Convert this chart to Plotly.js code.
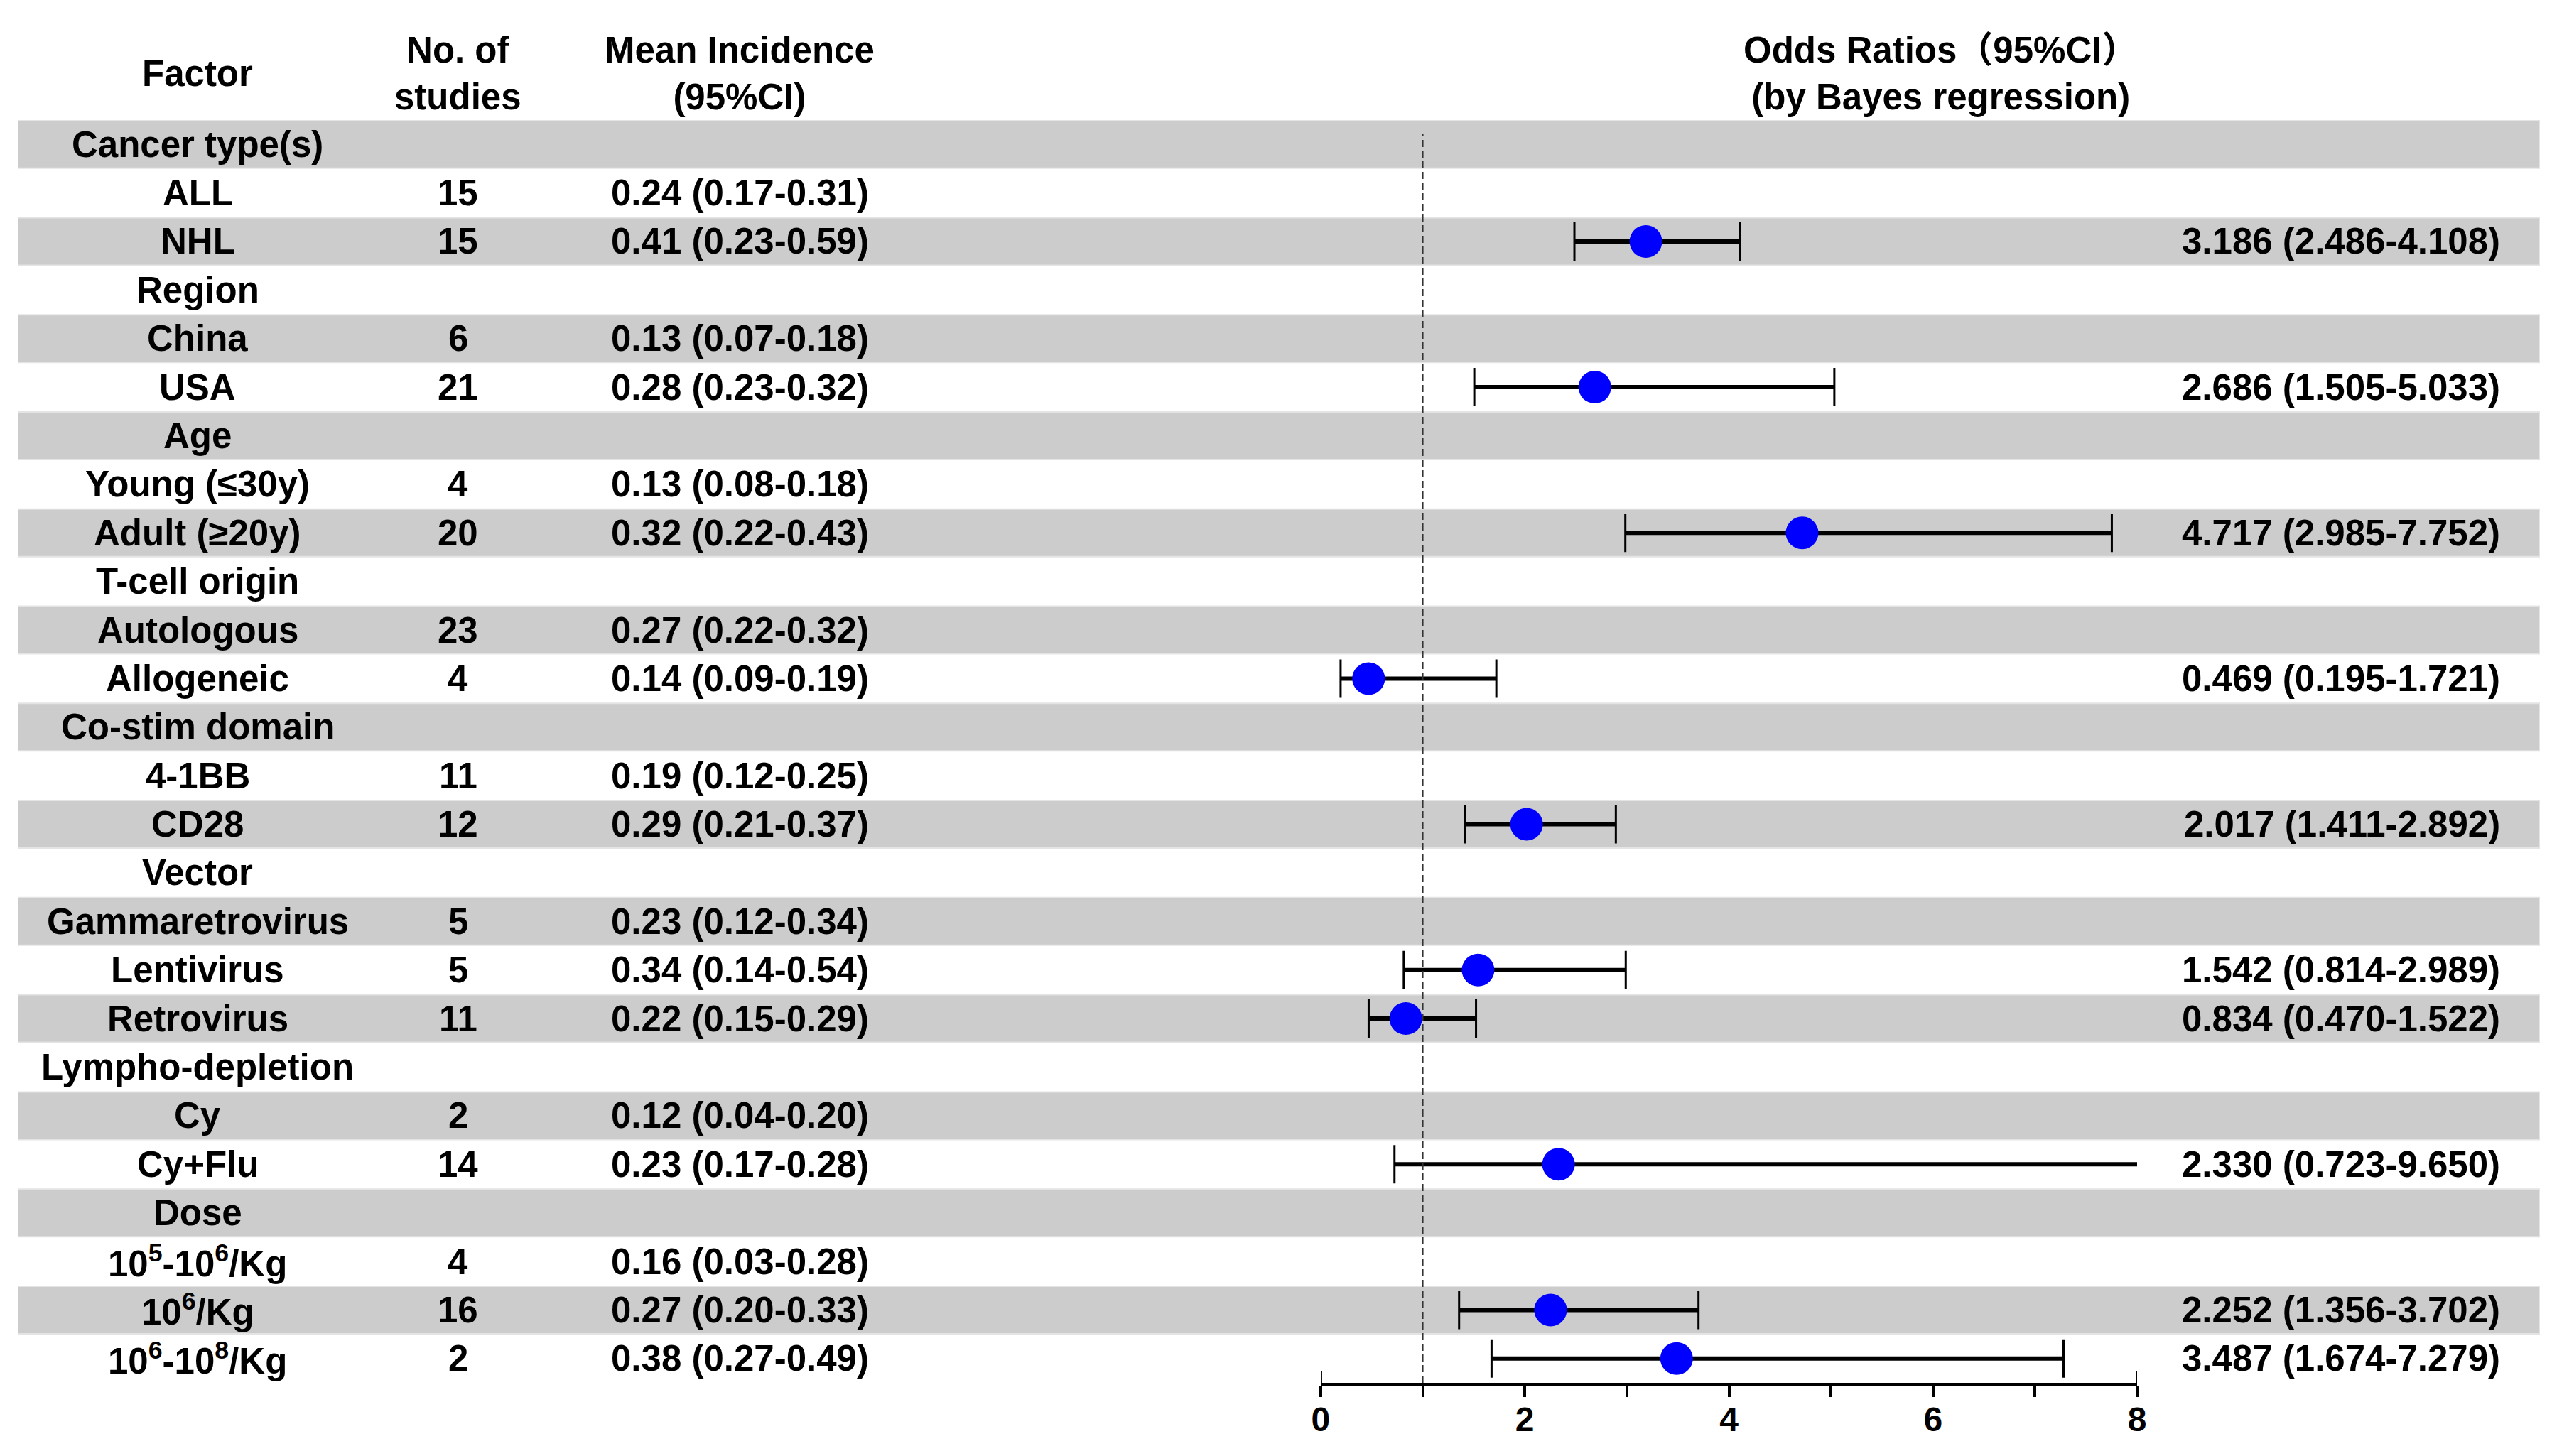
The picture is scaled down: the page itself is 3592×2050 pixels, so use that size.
<!DOCTYPE html>
<html>
<head>
<meta charset="utf-8">
<script src="https://cdn.plot.ly/plotly-3.0.1.min.js"></script>
<style>html,body{margin:0;padding:0;background:#fff;}#chart{width:3592px;height:2050px;}</style>
</head>
<body>
<div id="chart"></div>
<script>
// ---- data ----
const factors = ['Cancer type(s)','ALL','NHL','Region','China','USA','Age','Young (≤30y)','Adult (≥20y)',
  'T-cell origin','Autologous','Allogeneic','Co-stim domain','4-1BB','CD28','Vector','Gammaretrovirus',
  'Lentivirus','Retrovirus','Lympho-depletion','Cy','Cy+Flu','Dose',
  '10<sup>5</sup>-10<sup>6</sup>/Kg','10<sup>6</sup>/Kg','10<sup>6</sup>-10<sup>8</sup>/Kg'];
const nStudies = [null,15,15,null,6,21,null,4,20,null,23,4,null,11,12,null,5,5,11,null,2,14,null,4,16,2];
const meanInc  = [null,0.24,0.41,null,0.13,0.28,null,0.13,0.32,null,0.27,0.14,null,0.19,0.29,null,0.23,0.34,0.22,null,0.12,0.23,null,0.16,0.27,0.38];
const meanLo   = [null,0.17,0.23,null,0.07,0.23,null,0.08,0.22,null,0.22,0.09,null,0.12,0.21,null,0.12,0.14,0.15,null,0.04,0.17,null,0.03,0.20,0.27];
const meanHi   = [null,0.31,0.59,null,0.18,0.32,null,0.18,0.43,null,0.32,0.19,null,0.25,0.37,null,0.34,0.54,0.29,null,0.20,0.28,null,0.28,0.33,0.49];
const orEst = [null,null,3.186,null,null,2.686,null,null,4.717,null,null,0.469,null,null,2.017,null,null,1.542,0.834,null,null,2.330,null,null,2.252,3.487];
const orLo  = [null,null,2.486,null,null,1.505,null,null,2.985,null,null,0.195,null,null,1.411,null,null,0.814,0.470,null,null,0.723,null,null,1.356,1.674];
const orHi  = [null,null,4.108,null,null,5.033,null,null,7.752,null,null,1.721,null,null,2.892,null,null,2.989,1.522,null,null,9.650,null,null,3.702,7.279];
const orTickVals = [0,2,4,6,8];
const orTickText = ['0','2','4','6','8'];

// ---- derived ----
const rows = factors.map((_, i) => i);
const shaded = rows.filter(i => i % 2 === 0);
const errPlus = orEst.map((v, i) => v == null ? null : orHi[i] - v);
const errMinus = orEst.map((v, i) => v == null ? null : v - orLo[i]);

const FONT = 'Liberation Sans, Arial, Noto Sans CJK SC, sans-serif';
const FS = 51;
const txtFont = {family: FONT, size: FS, color: '#000', weight: 700};

// column positions (paper fractions)
const colFactor = 0.0713, colN = 0.1746, colMean = 0.2862, colOR = 0.9848;

const traces = [
  { type: 'bar', orientation: 'h', x: shaded.map(() => 1), y: shaded, base: 0, width: 0.98,
    xaxis: 'x', yaxis: 'y', marker: {color: '#cccccc', line: {color: '#e4e4e4', width: 2}},
    hoverinfo: 'skip', showlegend: false },
  { type: 'scatter', mode: 'markers', x: orEst, y: rows, xaxis: 'x2', yaxis: 'y',
    marker: {size: 1, color: 'rgba(0,0,0,0)'},
    error_x: {type: 'data', symmetric: false, array: errPlus, arrayminus: errMinus,
              thickness: 3, width: 27, color: '#000'}, showlegend: false, hoverinfo: 'skip' },
  { type: 'scatter', mode: 'markers', x: orEst, y: rows, xaxis: 'x2', yaxis: 'y',
    marker: {size: 1, color: 'rgba(0,0,0,0)'},
    error_x: {type: 'data', symmetric: false, array: errPlus, arrayminus: errMinus,
              thickness: 6, width: 0, color: '#000'}, showlegend: false, hoverinfo: 'skip' },
  { type: 'scatter', mode: 'markers', x: orEst, y: rows, xaxis: 'x2', yaxis: 'y',
    marker: {size: 46, color: '#0000ff'}, showlegend: false }
];

const ann = [];
factors.forEach((f, i) => {
  ann.push({xref: 'paper', yref: 'y', x: colFactor, y: i, text: f, showarrow: false, xanchor: 'center', yanchor: 'middle', font: txtFont});
  if (nStudies[i] != null)
    ann.push({xref: 'paper', yref: 'y', x: colN, y: i, text: String(nStudies[i]), showarrow: false, xanchor: 'center', yanchor: 'middle', font: txtFont});
  if (meanInc[i] != null)
    ann.push({xref: 'paper', yref: 'y', x: colMean, y: i,
      text: meanInc[i].toFixed(2) + ' (' + meanLo[i].toFixed(2) + '-' + meanHi[i].toFixed(2) + ')',
      showarrow: false, xanchor: 'center', yanchor: 'middle', font: txtFont});
  if (orEst[i] != null)
    ann.push({xref: 'paper', yref: 'y', x: colOR, y: i,
      text: orEst[i].toFixed(3) + ' (' + orLo[i].toFixed(3) + '-' + orHi[i].toFixed(3) + ')',
      showarrow: false, xanchor: 'right', yanchor: 'middle', font: txtFont});
});
// headers
ann.push({xref: 'paper', yref: 'paper', x: colFactor, y: 1.037, text: 'Factor', showarrow: false, xanchor: 'center', yanchor: 'middle', font: txtFont});
ann.push({xref: 'paper', yref: 'paper', x: colN, y: 1.037, text: 'No. of<br>studies', showarrow: false, xanchor: 'center', yanchor: 'middle', font: txtFont});
ann.push({xref: 'paper', yref: 'paper', x: colMean, y: 1.037, text: 'Mean Incidence<br>(95%CI)', showarrow: false, xanchor: 'center', yanchor: 'middle', font: txtFont});
ann.push({xref: 'paper', yref: 'paper', x: 0.7625, y: 1.037, text: 'Odds Ratios（95%CI）<br>(by Bayes regression)', showarrow: false, xanchor: 'center', yanchor: 'middle', font: txtFont});

const shapes = [
  {type: 'line', xref: 'x2', yref: 'paper', x0: 1, x1: 1, y0: 0, y1: 0.989, layer: 'above',
   line: {color: '#333', width: 2, dash: '10px,5px'}},
  {type: 'line', xref: 'x2', yref: 'paper', x0: orTickVals[0], x1: orTickVals[0], ysizemode: 'pixel', yanchor: 0, y0: 0, y1: 16,
   line: {color: '#000', width: 4}},
  {type: 'line', xref: 'x2', yref: 'paper', x0: orTickVals[orTickVals.length-1], x1: orTickVals[orTickVals.length-1], ysizemode: 'pixel', yanchor: 0, y0: 0, y1: 16,
   line: {color: '#000', width: 4}}
];

const layout = {
  width: 3592, height: 2050,
  margin: {l: 25, r: 17, t: 169, b: 103, pad: 0},
  paper_bgcolor: '#ffffff', plot_bgcolor: 'rgba(0,0,0,0)',
  showlegend: false,
  xaxis: {domain: [0, 1], range: [0, 1], visible: false, fixedrange: true},
  xaxis2: {domain: [0.5166, 0.8403], range: [0, 8], anchor: 'y',
    showline: true, linewidth: 5, linecolor: '#000', ticks: 'outside', ticklen: 15, tickwidth: 4, tickcolor: '#000',
    tickmode: 'array', tickvals: orTickVals, ticktext: orTickText, showgrid: false, zeroline: false,
    minor: {dtick: 1, ticks: 'outside', ticklen: 15, tickwidth: 4, tickcolor: '#000', showgrid: false},
    tickfont: {family: FONT, size: 48, color: '#000', weight: 700}, ticklabelstandoff: -10},
  yaxis: {range: [25.5, -0.5], anchor: 'x', visible: false, showgrid: false, zeroline: false},
  annotations: ann,
  shapes: shapes
};

Plotly.newPlot('chart', traces, layout, {displayModeBar: false, staticPlot: true});
</script>
</body>
</html>
